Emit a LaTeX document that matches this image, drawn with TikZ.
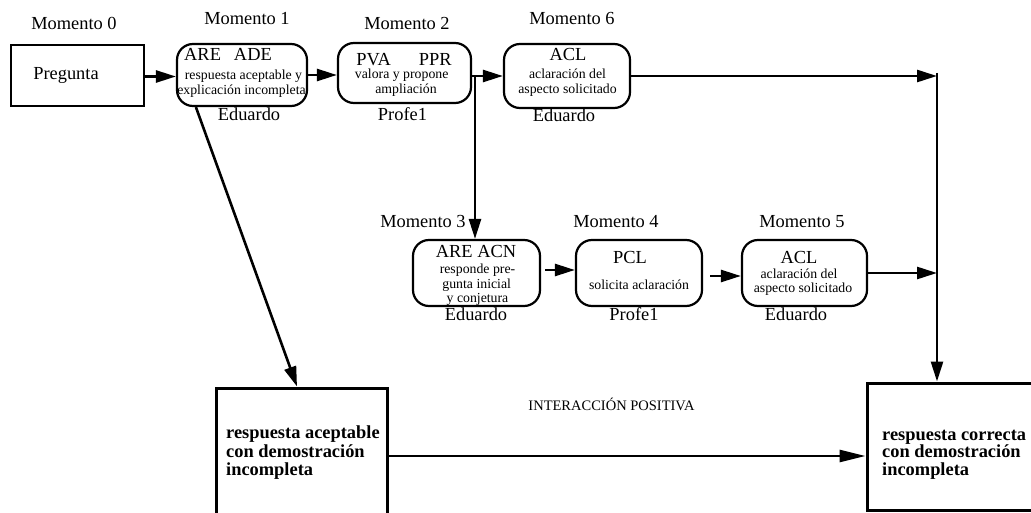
\documentclass[tikz,border=0pt]{standalone}
\usepackage{fontspec}
\setmainfont{Liberation Serif}
\usetikzlibrary{arrows.meta}
\newcommand\txtbig{\fontsize{18.4}{21}\selectfont}
\newcommand\txtsmall{\fontsize{13.8}{16}\selectfont}
\newcommand\txtmid{\fontsize{14.5}{17}\selectfont}
\newcommand\txtbold{\fontsize{18.4}{21}\selectfont\bfseries}
\begin{document}
\begin{tikzpicture}[x=1pt,y=-1pt,
  rbox/.style={draw,line width=2.2pt,rounded corners=16pt,inner sep=0pt},
  pbox/.style={draw,line width=2pt,inner sep=0pt},
  obox/.style={draw,line width=3pt,inner sep=0pt},
  arr/.style={line width=2.6pt,-{Triangle[length=20pt,width=12pt]}},
  arrlong/.style={line width=2.6pt,-{Triangle[length=26pt,width=12pt]}},
  lbl/.style={anchor=base,inner sep=0pt,font=\txtbig},
  sml/.style={anchor=base,inner sep=0pt,font=\txtsmall},
  bld/.style={anchor=base west,inner sep=0pt,font=\txtbold},
]
\useasboundingbox (0,0) rectangle (1031,513);
\clip (0,0) rectangle (1031,513);

% boxes
\node[pbox,minimum width=133pt,minimum height=61pt] (preg) at (77.5,75.5) {};
\node[rbox,minimum width=130pt,minimum height=62pt] (m1) at (242,75) {};
\node[rbox,minimum width=133pt,minimum height=60pt] (m2) at (404.5,73) {};
\node[rbox,minimum width=126pt,minimum height=64pt] (m6) at (567,76) {};
\node[rbox,minimum width=127pt,minimum height=66pt] (m3) at (476.5,273) {};
\node[rbox,minimum width=126pt,minimum height=66pt] (m4) at (639,273) {};
\node[rbox,minimum width=125pt,minimum height=66pt] (m5) at (804.5,273) {};
\node[obox,minimum width=171pt,minimum height=142pt] (lb) at (301.5,459) {};
\node[obox,minimum width=178pt,minimum height=127pt] (cb) at (956,446.5) {};

% moment labels
\node[lbl] (t0) at (74,30) {Momento 0};
\node[lbl] (t1) at (247,25) {Momento 1};
\node[lbl] (t2) at (407,30) {Momento 2};
\node[lbl] (t6) at (572,25) {Momento 6};
\node[lbl] (t3) at (423,228) {Momento 3};
\node[lbl] (t4) at (616,228) {Momento 4};
\node[lbl] (t5) at (802,228) {Momento 5};

% box texts
\node[lbl] (pq) at (66,80) {Pregunta};

\node[lbl] (a1) at (228,61) {ARE\hspace{13pt}ADE};
\node[sml] (a1b) at (243.5,80) {respuesta aceptable y};
\node[sml] (a1c) at (241.5,95) {explicación incompleta};
\node[lbl] (e1) at (249,121) {Eduardo};

\node[lbl] (a2) at (404,66) {PVA\hspace{28pt}PPR};
\node[sml] (a2b) at (401.7,79) {valora y propone};
\node[sml] (a2c) at (406,94) {ampliación};
\node[lbl] (e2) at (402.5,121) {Profe1};

\node[lbl] (a6) at (568,61) {ACL};
\node[sml] (a6b) at (567.5,79) {aclaración del};
\node[sml] (a6c) at (567.5,94) {aspecto solicitado};
\node[lbl] (e6) at (564,122) {Eduardo};

\node[lbl] (a3) at (476,258) {ARE ACN};
\node[sml] (a3b) at (477.5,273) {responde pre-};
\node[sml] (a3c) at (476.7,288) {gunta inicial};
\node[sml] (a3d) at (477.5,302) {y conjetura};
\node[lbl] (e3) at (476,320.5) {Eduardo};

\node[lbl] (a4) at (630,264) {PCL};
\node[sml] (a4b) at (639,289) {solicita aclaración};
\node[lbl] (e4) at (634,320.5) {Profe1};

\node[lbl] (a5) at (799,264) {ACL};
\node[sml] (a5b) at (799,278) {aclaración del};
\node[sml] (a5c) at (803,292) {aspecto solicitado};
\node[lbl] (e5) at (796,320.5) {Eduardo};

\node[bld] (l1) at (226,438) {respuesta aceptable};
\node[bld] (l2) at (226,457) {con demostración};
\node[bld] (l3) at (226,475) {incompleta};

\node[bld] (r1) at (882,440) {respuesta correcta};
\node[bld] (r2) at (882,457) {con demostración};
\node[bld] (r3) at (882,475) {incompleta};

\node[anchor=base,inner sep=0pt,font=\txtmid] (ip) at (611.5,410) {INTERACCIÓN POSITIVA};

% connectors
\coordinate (j) at (475,76);
\coordinate (rr) at (937,76);
\path ([yshift=-1pt]preg.east) coordinate (p1);
\path ([xshift=4pt,yshift=3pt]m3.east) coordinate (p3);
\path ([xshift=7pt,yshift=-3pt]m4.east) coordinate (p4);
\path ([yshift=3pt]lb.east) coordinate (pl);

\draw[arr] (p1) -- (p1 -| m1.west);
\draw[arr] (m1.east) -- (m1.east -| m2.west);
\draw[arr] (m2.east |- j) -- (j -| m6.west);
\draw[arr] (j) -- (j |- m3.north);
\draw[arr] (m6.east |- rr) -- (rr);
\draw[arr] ([yshift=3pt]rr) -- (rr |- cb.north);
\draw[arr] ([xshift=20pt]m1.south west) -- ([xshift=-4.5pt]lb.north);
\draw[arr] (p3) -- (p3 -| m4.west);
\draw[arr] (p4) -- (p4 -| m5.west);
\draw[arr] (m5.east) -- (m5.east -| rr);
\draw[arrlong] (pl) -- (pl -| cb.west);
\end{tikzpicture}
\end{document}
